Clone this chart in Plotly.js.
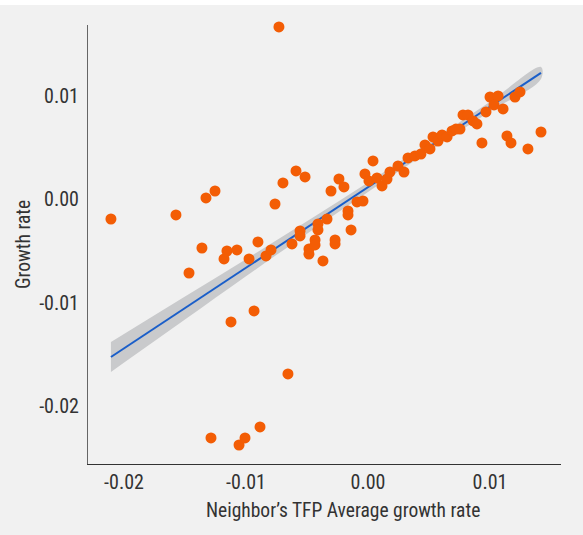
<!DOCTYPE html>
<html>
<head>
<meta charset="utf-8">
<script src="https://cdn.plot.ly/plotly-3.0.1.min.js"></script>
<style>
html,body{margin:0;padding:0;background:#ffffff;}
#plot{position:absolute;left:0;top:5px;width:583px;height:530px;}
</style>
</head>
<body>
<div id="plot"></div>
<script>
// Neighbor's TFP average growth rate (x) vs growth rate (y)
const neighborGrowth = [
  -0.02107,-0.00730,-0.01574,-0.01467,-0.01361,-0.01328,-0.01254,-0.01180,-0.01156,-0.01074,
  -0.01123,-0.01287,-0.01057,-0.01008,-0.00885,-0.00934,-0.00656,-0.00975,-0.00902,-0.00836,
  -0.00795,-0.00762,-0.00697,-0.00590,-0.00516,-0.00623,-0.00557,-0.00557,-0.00484,-0.00484,
  -0.00434,-0.00434,-0.00410,-0.00410,-0.00336,-0.00369,-0.00270,-0.00270,-0.00303,-0.00238,
  -0.00197,-0.00164,-0.00164,-0.00139,-0.00090,-0.00041,-0.00025,0.00041,0.00008,0.00074,
  0.00115,0.00156,0.00180,0.00246,0.00295,0.00328,0.00385,0.00434,0.00467,0.00508,
  0.00533,0.00574,0.00607,0.00648,0.00689,0.00721,0.00754,0.00779,0.00820,0.00861,
  0.00893,0.00934,0.00967,0.01000,0.01066,0.01033,0.01107,0.01139,0.01172,0.01205,
  0.01246,0.01311,0.01418
];
const growthRate = [
  -0.00189,0.01670,-0.00150,-0.00712,-0.00470,0.00015,0.00082,-0.00576,-0.00499,-0.00489,
  -0.01186,-0.02309,-0.02377,-0.02309,-0.02202,-0.01079,-0.01689,-0.00576,-0.00411,-0.00547,
  -0.00489,-0.00044,0.00160,0.00276,0.00218,-0.00431,-0.00305,-0.00353,-0.00479,-0.00528,
  -0.00392,-0.00440,-0.00237,-0.00295,-0.00189,-0.00595,-0.00392,-0.00431,0.00082,0.00198,
  0.00121,-0.00111,-0.00150,-0.00295,-0.00024,-0.00015,0.00247,0.00373,0.00179,0.00208,
  0.00131,0.00198,0.00266,0.00324,0.00266,0.00402,0.00421,0.00440,0.00528,0.00489,
  0.00605,0.00566,0.00624,0.00605,0.00663,0.00682,0.00682,0.00818,0.00818,0.00760,
  0.00731,0.00547,0.00847,0.00992,0.01002,0.00915,0.00876,0.00615,0.00547,0.00992,
  0.01041,0.00489,0.00653
];
// Fitted line and its confidence band
const fitX    = [-0.02107,-0.01500,-0.01000,-0.00500,0.00000,0.00500,0.01000,0.01418];
const fitY    = [-0.01525,-0.01051,-0.00661,-0.00271,0.00119,0.00509,0.00899,0.01225];
const fitHalf = [0.00145,0.00112,0.00083,0.00060,0.00046,0.00043,0.00048,0.00058];

const xTickVals = [-0.02,-0.01,0.00,0.01];
const xTickText = ['-0.02','-0.01','0.00','0.01'];
const yTickVals = [-0.02,-0.01,0.00,0.01];
const yTickText = ['-0.02','-0.01','0.00','0.01'];

const upper = fitY.map((v,i)=>v+fitHalf[i]);
const lower = fitY.map((v,i)=>v-fitHalf[i]);

const font="'Liberation Sans Narrow','Roboto Condensed','Arial Narrow',Roboto,sans-serif";
const traces=[
  {x:fitX.concat(fitX.slice().reverse()),y:upper.concat(lower.slice().reverse()),type:'scatter',mode:'lines',
   fill:'toself',fillcolor:'#c9cacc',line:{width:0,color:'rgba(0,0,0,0)',shape:'spline'},hoverinfo:'skip',showlegend:false},
  {x:fitX,y:fitY,type:'scatter',mode:'lines',line:{color:'#1a5ec9',width:2},showlegend:false},
  {x:neighborGrowth,y:growthRate,type:'scatter',mode:'markers',
   marker:{color:'#f35d05',size:11,line:{width:0}},cliponaxis:false,showlegend:false}
];
const layout={
  width:583,height:530,
  paper_bgcolor:'#f1f1f1',plot_bgcolor:'#f1f1f1',
  margin:{l:88,r:22,t:20,b:71},
  font:{family:font,size:19.5,color:'#333333'},
  showlegend:false,
  xaxis:{range:[-0.02295,0.01582],tickvals:xTickVals,ticktext:xTickText,showgrid:false,zeroline:false,
    showline:true,linecolor:'#333333',linewidth:1,ticks:'',tickfont:{family:font,size:20,color:'#333333'}},
  yaxis:{range:[-0.02561,0.01689],tickvals:yTickVals,ticktext:yTickText,showgrid:false,zeroline:false,
    showline:true,linecolor:'#666666',linewidth:1,ticks:'',ticklabelstandoff:4,tickfont:{family:font,size:20,color:'#333333'}},
  annotations:[
    {text:"Neighbor\u2019s TFP Average growth rate",xref:'paper',yref:'paper',x:0.540,y:0,yanchor:'middle',yshift:-46,
     showarrow:false,font:{family:font,size:19.5,color:'#333333'}},
    {text:'Growth rate',xref:'paper',yref:'paper',x:0,y:0.5,xanchor:'center',xshift:-64.5,textangle:-90,
     showarrow:false,font:{family:font,size:19.5,color:'#333333'}}
  ]
};
Plotly.newPlot('plot',traces,layout,{displayModeBar:false,staticPlot:true});
</script>
</body>
</html>
